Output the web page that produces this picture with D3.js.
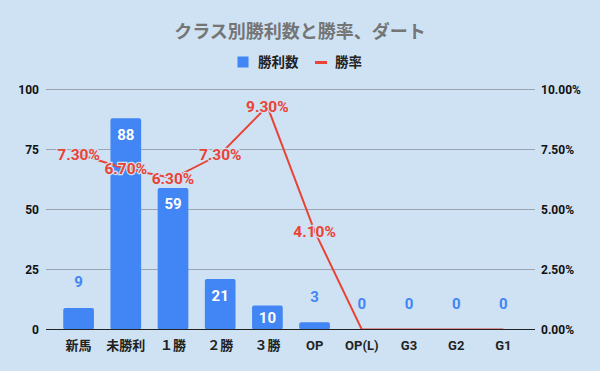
<!DOCTYPE html>
<html>
<head>
<meta charset="utf-8">
<script src="https://cdn.jsdelivr.net/npm/d3@7"></script>
<style>
  body { margin: 0; background: #cfe2f3; }
  svg { display: block; font-family: Roboto, "Noto Sans CJK JP", sans-serif; }
</style>
</head>
<body>
<div id="chart"></div>
<script>
// data
const categories = ["新馬", "未勝利", "１勝", "２勝", "３勝", "OP", "OP(L)", "G3", "G2", "G1"];
const wins = [9, 88, 59, 21, 10, 3, 0, 0, 0, 0];
const winRates = [0.073, 0.067, 0.063, 0.073, 0.093, 0.041, 0, 0, 0, 0];
const leftTicks = [0, 25, 50, 75, 100];
const rightTicks = [0, 0.025, 0.05, 0.075, 0.1];
const titleText = "クラス別勝利数と勝率、ダート";
const seriesNames = ["勝利数", "勝率"];

class ComboChart {
  constructor({ parentElement }) {
    this.parentElement = parentElement;
    this.fullWidth = 600;
    this.fullHeight = 371;
    this.margin = { top: 89.5, right: 65, bottom: 41.5, left: 46 };
    this.width = this.fullWidth - this.margin.left - this.margin.right;
    this.height = this.fullHeight - this.margin.top - this.margin.bottom;
    this.barColor = "#4285f4";
    this.lineColor = "#ea4335";
    this.bg = "#cfe2f3";

    this.initChart();
  }

  initChart() {
    let vis = this;
    vis.root = d3.select(vis.parentElement)
      .append("svg")
      .attr("width", vis.fullWidth)
      .attr("height", vis.fullHeight);

    vis.root.append("rect")
      .attr("width", vis.fullWidth)
      .attr("height", vis.fullHeight)
      .attr("fill", vis.bg);

    // Title
    vis.root.append("text")
      .attr("x", 300)
      .attr("y", 38)
      .attr("text-anchor", "middle")
      .attr("font-size", 18)
      .attr("font-weight", "bold")
      .attr("fill", "#757575")
      .text(titleText);

    // Legend
    const legend = vis.root.append("g");
    legend.append("rect")
      .attr("x", 237.5).attr("y", 56.5)
      .attr("width", 11).attr("height", 11)
      .attr("fill", vis.barColor);
    legend.append("text")
      .attr("x", 258).attr("y", 62)
      .attr("dy", "0.36em")
      .attr("font-size", 13.5)
      .attr("font-weight", "bold")
      .attr("fill", "#222")
      .text(seriesNames[0]);
    legend.append("rect")
      .attr("x", 315).attr("y", 61)
      .attr("width", 12).attr("height", 3)
      .attr("fill", vis.lineColor);
    legend.append("text")
      .attr("x", 335).attr("y", 62)
      .attr("dy", "0.36em")
      .attr("font-size", 13.5)
      .attr("font-weight", "bold")
      .attr("fill", "#222")
      .text(seriesNames[1]);

    vis.svg = vis.root.append("g")
      .attr("transform", "translate(" + vis.margin.left + "," + vis.margin.top + ")");

    vis.updateChart();
  }

  updateChart() {
    let vis = this;

    const x = d3.scaleBand()
      .domain(categories)
      .range([9, vis.width - 8])
      .paddingInner(0.35)
      .paddingOuter(0.175);

    const y = d3.scaleLinear()
      .domain([0, 100])
      .range([vis.height, 0]);

    const y2 = d3.scaleLinear()
      .domain([0, 0.1])
      .range([vis.height, 0]);

    // Grid lines
    vis.svg.append("g")
      .selectAll("line")
      .data(leftTicks.filter(d => d > 0))
      .join("line")
      .attr("x1", 0)
      .attr("x2", vis.width)
      .attr("y1", d => y(d))
      .attr("y2", d => y(d))
      .attr("stroke", "#9aa5b1")
      .attr("stroke-width", 1);

    // Left axis
    const leftAxis = vis.svg.append("g")
      .call(d3.axisLeft(y).tickValues(leftTicks).tickSize(0).tickPadding(7));
    leftAxis.select(".domain").remove();
    leftAxis.selectAll("text")
      .attr("font-size", 12)
      .attr("font-weight", "bold")
      .attr("font-family", "Roboto, sans-serif")
      .attr("fill", "#111");

    // Right axis
    const rightAxis = vis.svg.append("g")
      .attr("transform", "translate(" + vis.width + ",0)")
      .call(d3.axisRight(y2).tickValues(rightTicks).tickSize(0).tickPadding(6).tickFormat(d3.format(".2%")));
    rightAxis.select(".domain").remove();
    rightAxis.selectAll("text")
      .attr("font-size", 12)
      .attr("font-weight", "bold")
      .attr("font-family", "Roboto, sans-serif")
      .attr("fill", "#111");

    // Bars
    vis.svg.append("g")
      .selectAll("rect")
      .data(wins.map((v, i) => ({ cat: categories[i], v: v })).filter(d => d.v > 0))
      .join("rect")
      .attr("x", d => x(d.cat))
      .attr("y", d => y(d.v))
      .attr("width", x.bandwidth())
      .attr("height", d => y(0) - y(d.v))
      .attr("rx", 2)
      .attr("fill", vis.barColor);

    // Line (clipped at the baseline)
    vis.svg.append("clipPath")
      .attr("id", "plot-clip")
      .append("rect")
      .attr("x", -10).attr("y", -20)
      .attr("width", vis.width + 20)
      .attr("height", vis.height + 19.5);

    const line = d3.line()
      .x((d, i) => x(categories[i]) + x.bandwidth() / 2)
      .y(d => y2(d));

    vis.svg.append("path")
      .datum(winRates)
      .attr("d", line)
      .attr("clip-path", "url(#plot-clip)")
      .attr("fill", "none")
      .attr("stroke", vis.lineColor)
      .attr("stroke-width", 2);

    // Baseline
    vis.svg.append("line")
      .attr("x1", 0)
      .attr("x2", vis.width)
      .attr("y1", y(0))
      .attr("y2", y(0))
      .attr("stroke", "#222")
      .attr("stroke-width", 1);

    // X labels
    const bottomAxis = vis.svg.append("g")
      .attr("transform", "translate(0," + vis.height + ")")
      .call(d3.axisBottom(x).tickSize(0).tickPadding(11));
    bottomAxis.select(".domain").remove();
    bottomAxis.selectAll("text")
      .attr("font-size", 13)
      .attr("font-weight", "bold")
      .attr("font-family", "Roboto, 'Noto Sans CJK JP', sans-serif")
      .attr("fill", "#222");

    // Bar value labels
    vis.svg.append("g")
      .selectAll("text")
      .data(wins.map((v, i) => ({ cat: categories[i], v: v })))
      .join("text")
      .attr("x", d => x(d.cat) + x.bandwidth() / 2)
      .attr("y", d => {
        const h = y(0) - y(d.v);
        if (h > 22) return Math.min(y(d.v) + 16, y(d.v) + h / 2);
        return y(d.v) - 26;
      })
      .attr("dy", "0.36em")
      .attr("text-anchor", "middle")
      .attr("font-size", 15)
      .attr("font-weight", "bold")
      .attr("fill", d => (y(0) - y(d.v) > 22 ? "#fff" : vis.barColor))
      .text(d => d.v);

    // Line value labels
    vis.svg.append("g")
      .selectAll("text")
      .data(winRates.map((v, i) => ({ cat: categories[i], v: v })).filter(d => d.v > 0))
      .join("text")
      .attr("x", d => x(d.cat) + x.bandwidth() / 2)
      .attr("y", d => y2(d.v))
      .attr("dy", "0.36em")
      .attr("text-anchor", "middle")
      .attr("font-size", 15.5)
      .attr("font-weight", "bold")
      .attr("fill", vis.lineColor)
      .attr("stroke", vis.bg)
      .attr("stroke-width", 2.5)
      .attr("paint-order", "stroke")
      .text(d => d3.format(".2%")(d.v));
  }
}

new ComboChart({ parentElement: "#chart" });
</script>
</body>
</html>
